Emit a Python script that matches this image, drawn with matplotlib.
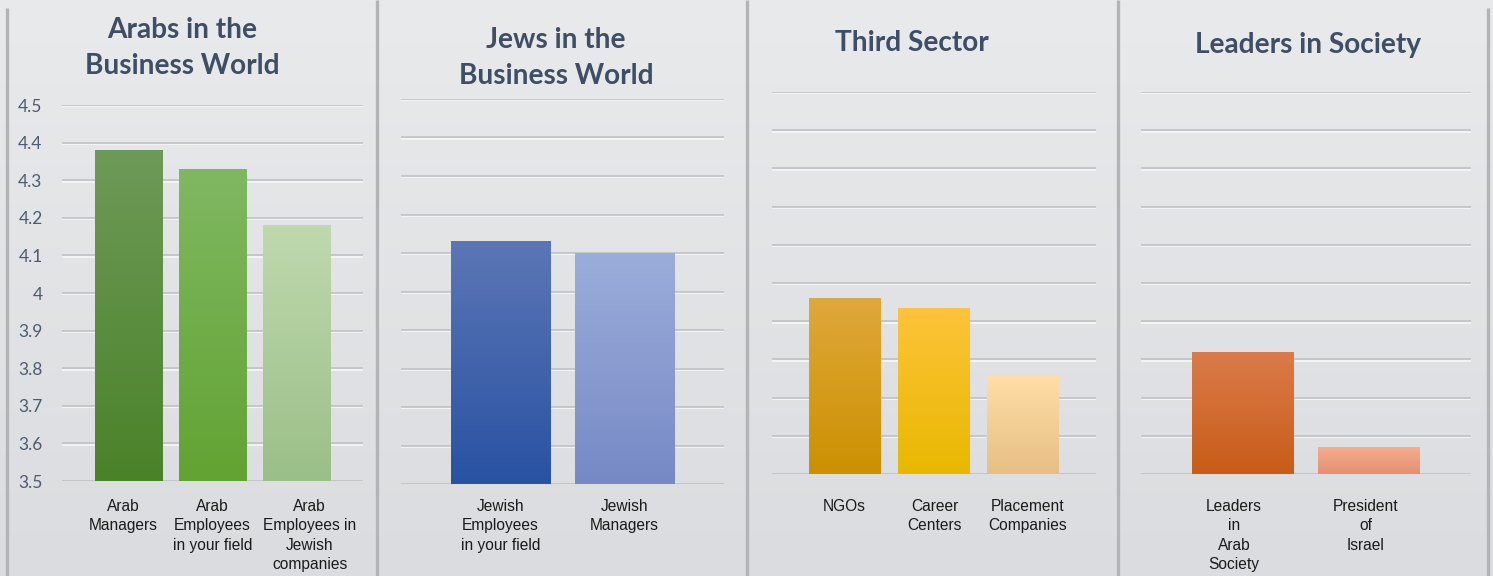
import matplotlib

matplotlib.use("Agg")
import matplotlib.patheffects as pe
import matplotlib.pyplot as plt
import numpy as np
from matplotlib.colors import LinearSegmentedColormap
from matplotlib.transforms import ScaledTranslation, blended_transform_factory

# 데이터
arab_labels = ["Arab\nManagers", "Arab\nEmployees\nin your field", "Arab\nEmployees in\nJewish\ncompanies"]
arab_values = [4.38, 4.33, 4.18]
jewish_labels = ["Jewish\nEmployees\nin your field", "Jewish\nManagers"]
jewish_values = [4.13, 4.10]
third_labels = ["NGOs", "Career\nCenters", "Placement\nCompanies"]
third_values = [3.96, 3.935, 3.76]
leaders_labels = ["Leaders\nin\nArab\nSociety", "President\nof\nIsrael"]
leaders_values = [3.82, 3.57]

y_ticks = [3.5, 3.6, 3.7, 3.8, 3.9, 4.0, 4.1, 4.2, 4.3, 4.4, 4.5]
y_tick_labels = ["3.5", "3.6", "3.7", "3.8", "3.9", "4", "4.1", "4.2", "4.3", "4.4", "4.5"]

W, H = 1493, 576
fig = plt.figure(figsize=(W / 100, H / 100), dpi=100)

# 배경 그라데이션
bg = fig.add_axes([0, 0, 1, 1], zorder=-10)
bg_cmap = LinearSegmentedColormap.from_list("bg", ["#dbdcdf", "#e9eaec"])
bg.imshow(np.linspace(0, 1, 256).reshape(-1, 1), cmap=bg_cmap, aspect="auto",
          origin="lower", extent=[0, 1, 0, 1])
bg.set_xlim(0, 1)
bg.set_ylim(0, 1)
bg.axis("off")

# 구분선
for x, y_top in [(7, 8), (377, 0), (747, 0), (1118, 0), (1488, 8)]:
    bg.plot([x / W, x / W], [0, 1 - y_top / H], color="#b3b4b7", lw=2.4,
            solid_capstyle="butt")

TITLE_COLOR = "#3e4e64"
BASE = 3.5
grid_fx = [pe.SimpleLineShadow(offset=(0, -1.0), shadow_color="#f6f7f8", alpha=1.0),
           pe.Normal()]


def px_rect(x0, x1, y_top, y_bot):
    return [x0 / W, 1 - y_bot / H, (x1 - x0) / W, (y_bot - y_top) / H]


def draw_panel(rect, xlim, labels, values, colors, show_y=False, label_shift=None):
    ax = fig.add_axes(rect)
    ax.set_facecolor("none")
    for s in ax.spines.values():
        s.set_visible(False)
    for t in y_ticks:
        ax.axhline(t, color="#bfc1c5", lw=1.2, zorder=1, path_effects=grid_fx)
    x = np.arange(len(values))
    bars = ax.bar(x, [v - BASE for v in values], bottom=BASE, width=0.8,
                  color="none", edgecolor="none", zorder=2)
    grad = np.linspace(0, 1, 256).reshape(-1, 1)
    for b, (c_bot, c_top) in zip(bars, colors):
        cmap = LinearSegmentedColormap.from_list("g", [c_bot, c_top])
        x0 = b.get_x()
        x1 = x0 + b.get_width()
        im = ax.imshow(grad, cmap=cmap, aspect="auto", origin="lower",
                       extent=[x0, x1, BASE, BASE + b.get_height()], zorder=2)
        im.set_clip_path(b)
    ax.set_xlim(*xlim)
    ax.set_ylim(3.5, 4.5)
    ax.set_xticks([])
    if show_y:
        ax.set_yticks(y_ticks)
        ax.set_yticklabels(y_tick_labels, fontsize=12.5, color="#4d5b70",
                           family=["Lato", "DejaVu Sans"])
        ax.tick_params(axis="y", length=0, pad=14)
    else:
        ax.set_yticks([])
    if label_shift is None:
        label_shift = [0] * len(labels)
    base_tr = blended_transform_factory(ax.transData, fig.transFigure)
    for xi, lab, dx in zip(x, labels, label_shift):
        tr = base_tr + ScaledTranslation(dx / 100, 0, fig.dpi_scale_trans)
        ax.text(xi, 1 - 499 / H, lab, transform=tr, ha="center", va="top",
                fontsize=11.2, color="#1a1a1a", family="Liberation Sans",
                linespacing=1.36)
    return ax


draw_panel(px_rect(62, 363, 105, 481), (-0.79, 2.79), arab_labels, arab_values,
           [("#4a8228", "#6e9a58"), ("#62a333", "#80b862"), ("#9bbf88", "#bfd9ae")],
           show_y=True, label_shift=[-5, 0, 13])
draw_panel(px_rect(401, 724, 99, 484), (-0.80, 1.80), jewish_labels, jewish_values,
           [("#2952a3", "#5b76b5"), ("#7789c5", "#9badda")])
draw_panel(px_rect(772, 1096, 92, 474), (-0.81, 2.82), third_labels, third_values,
           [("#cc9000", "#dfa83a"), ("#e8b800", "#fec33a"), ("#e6bf85", "#ffdea6")],
           label_shift=[0, 1, 5])
draw_panel(px_rect(1141, 1471, 92, 474), (-0.80, 1.81), leaders_labels, leaders_values,
           [("#c85c18", "#db7b4a"), ("#e58f72", "#f5ad8e")],
           label_shift=[-8, -3])

# 제목
title_kw = dict(ha="center", va="center", fontsize=20.2, fontweight="bold",
                color=TITLE_COLOR, family=["Lato", "DejaVu Sans"], linespacing=1.45)
fig.text(182 / W, 1 - 48 / H, "Arabs in the\nBusiness World", **title_kw)
fig.text(556 / W, 1 - 58 / H, "Jews in the\nBusiness World", **title_kw)
fig.text(912 / W, 1 - 43 / H, "Third Sector", **title_kw)
fig.text(1308 / W, 1 - 45 / H, "Leaders in Society", **title_kw)

fig.savefig("out.png", dpi=100)
